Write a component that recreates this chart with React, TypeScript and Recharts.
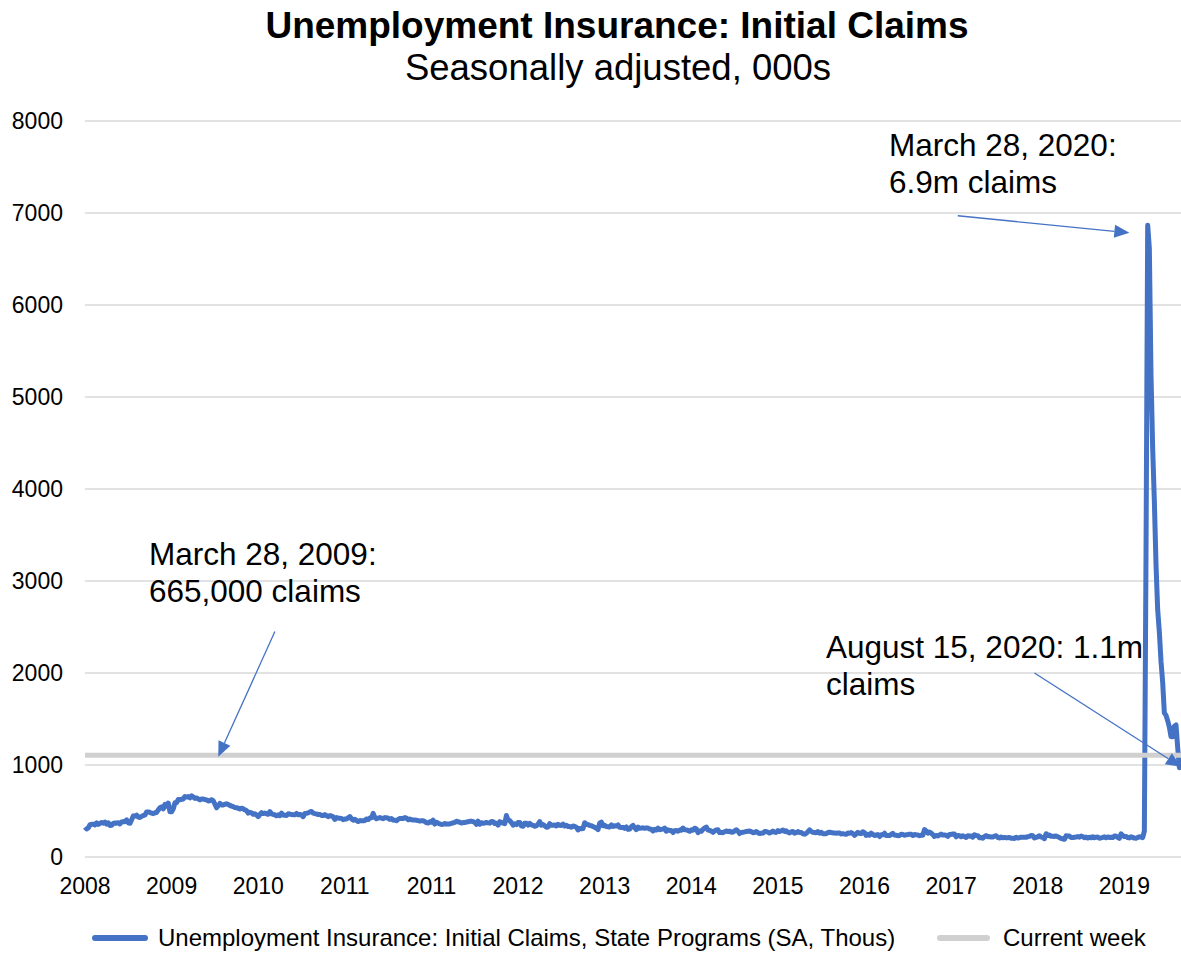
import { LineChart, Line, XAxis, YAxis, CartesianGrid, ReferenceLine } from "recharts";

const FONT = "'Liberation Sans', Arial, sans-serif";
const BLUE = "#4472C4";
const GREY = "#D0D0D0";

// weekly initial claims, thousands, week ending Saturday
const claims2008 = [326, 305, 318, 351, 355, 357, 349, 370, 353, 365, 375, 368, 380, 357, 372, 343, 345, 365, 370, 367, 373, 360, 381, 385, 384, 404, 371, 366, 405, 447, 446, 455, 434, 430, 441, 451, 457, 490, 490, 484, 476, 471, 481, 484, 512, 535, 545, 523, 573, 554, 586, 491];
const claims2009 = [491, 524, 589, 591, 626, 623, 627, 631, 658, 651, 658, 643, 665, 652, 637, 642, 631, 621, 631, 630, 625, 621, 608, 614, 623, 611, 573, 535, 557, 583, 566, 566, 573, 578, 570, 561, 553, 547, 537, 535, 530, 521, 531, 524, 512, 505, 477, 486, 480, 465, 469, 456];
const claims2010 = [439, 462, 482, 472, 478, 470, 464, 494, 468, 462, 459, 448, 458, 449, 477, 457, 454, 452, 469, 467, 461, 460, 460, 474, 460, 462, 458, 438, 473, 476, 480, 490, 494, 477, 472, 468, 461, 462, 452, 450, 461, 450, 439, 450, 446, 438, 408, 428, 423, 420, 419, 406];
const claims2011 = [412, 414, 427, 440, 415, 400, 410, 396, 386, 396, 393, 393, 397, 414, 407, 424, 426, 474, 430, 415, 423, 428, 422, 416, 428, 426, 422, 409, 418, 401, 400, 395, 409, 418, 420, 418, 428, 422, 404, 413, 404, 403, 401, 399, 395, 390, 394, 394, 385, 371, 369, 383, 378];
const claims2012 = [401, 358, 378, 367, 360, 354, 355, 365, 357, 360, 360, 366, 372, 377, 389, 383, 378, 369, 374, 375, 380, 382, 388, 389, 385, 376, 355, 389, 356, 372, 367, 370, 375, 371, 368, 386, 384, 364, 368, 346, 384, 376, 368, 362, 451, 402, 395, 373, 347, 362, 351, 375];
const claims2013 = [376, 338, 334, 368, 366, 348, 366, 350, 344, 335, 338, 358, 385, 346, 352, 339, 324, 327, 362, 345, 346, 348, 337, 355, 345, 343, 358, 337, 345, 331, 331, 324, 337, 332, 323, 294, 311, 307, 310, 373, 356, 352, 344, 340, 331, 322, 314, 298, 368, 379, 339, 345];
const claims2014 = [332, 329, 326, 348, 332, 339, 336, 348, 323, 320, 322, 311, 326, 300, 304, 329, 344, 319, 297, 326, 312, 314, 317, 312, 315, 314, 304, 302, 284, 302, 293, 313, 297, 300, 303, 315, 280, 295, 288, 288, 266, 286, 289, 280, 293, 291, 315, 297, 295, 289, 280, 295];
const claims2015 = [290, 313, 307, 265, 282, 279, 300, 315, 325, 293, 289, 282, 268, 283, 294, 296, 265, 266, 264, 275, 283, 277, 281, 268, 272, 282, 296, 281, 255, 267, 270, 273, 277, 280, 282, 275, 264, 267, 277, 263, 256, 259, 260, 276, 276, 271, 260, 269, 282, 271, 267, 287];
const claims2016 = [277, 284, 293, 278, 285, 269, 262, 272, 278, 259, 265, 276, 267, 267, 253, 248, 257, 274, 294, 278, 268, 267, 264, 277, 259, 268, 254, 254, 253, 266, 269, 266, 262, 261, 259, 260, 260, 251, 254, 249, 246, 260, 258, 265, 254, 235, 251, 268, 258, 254, 275, 265, 235];
const claims2017 = [247, 237, 259, 246, 234, 239, 244, 223, 243, 241, 258, 234, 235, 234, 244, 257, 238, 236, 232, 234, 248, 245, 237, 241, 244, 248, 247, 233, 244, 241, 240, 232, 236, 236, 298, 284, 260, 272, 260, 243, 223, 234, 229, 238, 249, 239, 238, 236, 225, 245, 245, 250];
const claims2018 = [250, 220, 233, 230, 221, 230, 222, 213, 231, 226, 229, 215, 242, 233, 232, 209, 211, 203, 222, 234, 221, 222, 218, 218, 227, 231, 214, 207, 217, 208, 213, 210, 210, 213, 203, 205, 201, 214, 207, 210, 215, 216, 214, 214, 221, 224, 234, 231, 206, 214, 220, 231];
const claims2019 = [216, 213, 199, 253, 234, 239, 225, 226, 223, 229, 221, 211, 202, 196, 192, 230, 228, 228, 212, 211, 215, 218, 222, 216, 227, 221, 209, 216, 206, 215, 209, 220, 209, 216, 217, 204, 208, 213, 219, 209, 218, 212, 215, 211, 227, 227, 213, 203, 252, 234, 222, 223];
const claims2020 = [212, 207, 220, 213, 205, 203, 211, 219, 217, 211, 282, 3307, 6867, 6615, 5237, 4442, 3867, 3176, 2687, 2446, 2126, 1897, 1566, 1540, 1482, 1413, 1310, 1307, 1422, 1435, 1191, 971, 1106];

const claims = [
  ...claims2008, ...claims2009, ...claims2010, ...claims2011, ...claims2012, ...claims2013, ...claims2014,
  ...claims2015, ...claims2016, ...claims2017, ...claims2018, ...claims2019, ...claims2020,
];

// current week (August 15, 2020) drawn across the whole chart
const currentWeek = 1106;
const yTicks = [0, 1000, 2000, 3000, 4000, 5000, 6000, 7000, 8000];

// week-ending dates from January 5, 2008
const weeks = claims.map((_, i) => new Date(Date.UTC(2008, 0, 5 + 7 * i)).toISOString().slice(0, 10));

const data = weeks.map((week, i) => ({ week, claims: claims[i], current: currentWeek }));

// annotation arrows in data units: [week index, value]
const arrows = [
  { from: [114, 2450], to: [80, 1090] },
  { from: [524, 6970], to: [627, 6785] },
  { from: [570, 2000], to: [658, 980] },
];

function Arrow(props: any) {
  const { x1, y1, x2, y2 } = props;
  const ang = Math.atan2(y2 - y1, x2 - x1);
  const len = 15;
  const half = 6.5;
  const bx = x2 - len * Math.cos(ang);
  const by = y2 - len * Math.sin(ang);
  const px = -Math.sin(ang) * half;
  const py = Math.cos(ang) * half;
  return (
    <g>
      <line x1={x1} y1={y1} x2={bx} y2={by} stroke={BLUE} strokeWidth={1.3} />
      <polygon points={`${x2},${y2} ${bx + px},${by + py} ${bx - px},${by - py}`} fill={BLUE} />
    </g>
  );
}

const noteStyle: React.CSSProperties = {
  position: "absolute",
  fontFamily: FONT,
  fontSize: 31.5,
  lineHeight: "37px",
  color: "#000",
  whiteSpace: "nowrap",
};

export default function App() {
  const tick = { fontSize: 23, fill: "#000", fontFamily: FONT };
  return (
    <div style={{ position: "relative", width: 1181, height: 956, background: "#fff", overflow: "hidden" }}>
      <style>{"body{margin:0}"}</style>
      <LineChart width={1181} height={956} data={data} margin={{ top: 121, right: 0, bottom: 59, left: 0 }}>
        <CartesianGrid vertical={false} stroke="#D9D9D9" strokeWidth={1.5} />
        <XAxis
          dataKey="week"
          interval={51}
          tickFormatter={(w: string) => w.slice(0, 4)}
          axisLine={false}
          tickLine={false}
          tickSize={0}
          tickMargin={21}
          height={40}
          tick={tick}
        />
        <YAxis
          domain={[0, 8000]}
          ticks={yTicks}
          interval={0}
          axisLine={false}
          tickLine={false}
          tickSize={0}
          tickMargin={22}
          width={85}
          tick={tick}
        />
        <Line type="linear" dataKey="claims" stroke={BLUE} strokeWidth={5} dot={false} strokeLinejoin="round" isAnimationActive={false} />
        <Line type="linear" dataKey="current" stroke={GREY} strokeWidth={5} dot={false} isAnimationActive={false} />
        {arrows.map((a, i) => (
          <ReferenceLine
            key={i}
            segment={[
              { x: weeks[a.from[0]], y: a.from[1] },
              { x: weeks[a.to[0]], y: a.to[1] },
            ]}
            shape={Arrow}
          />
        ))}
      </LineChart>

      <div style={{ position: "absolute", left: 617, top: 7, transform: "translateX(-50%)", fontFamily: FONT, fontWeight: 700, fontSize: 37, lineHeight: "37px", whiteSpace: "nowrap", color: "#000" }}>
        Unemployment Insurance: Initial Claims
      </div>
      <div style={{ position: "absolute", left: 618, top: 50, transform: "translateX(-50%)", fontFamily: FONT, fontSize: 36.5, lineHeight: "36.5px", whiteSpace: "nowrap", color: "#000" }}>
        Seasonally adjusted, 000s
      </div>

      <div style={{ ...noteStyle, left: 889, top: 127 }}>
        March 28, 2020:
        <br />
        6.9m claims
      </div>
      <div style={{ ...noteStyle, left: 149, top: 536 }}>
        March 28, 2009:
        <br />
        665,000 claims
      </div>
      <div style={{ ...noteStyle, left: 826, top: 629 }}>
        August 15, 2020: 1.1m
        <br />
        claims
      </div>

      <div style={{ position: "absolute", left: 92, top: 924, height: 28, display: "flex", alignItems: "center", fontFamily: FONT, fontSize: 24, whiteSpace: "nowrap" }}>
        <span style={{ display: "inline-block", width: 56, height: 6, borderRadius: 3, background: BLUE, marginRight: 10 }} />
        Unemployment Insurance: Initial Claims, State Programs (SA, Thous)
      </div>
      <div style={{ position: "absolute", left: 937, top: 924, height: 28, display: "flex", alignItems: "center", fontFamily: FONT, fontSize: 24, whiteSpace: "nowrap" }}>
        <span style={{ display: "inline-block", width: 53, height: 6, borderRadius: 3, background: GREY, marginRight: 13 }} />
        Current week
      </div>
    </div>
  );
}
